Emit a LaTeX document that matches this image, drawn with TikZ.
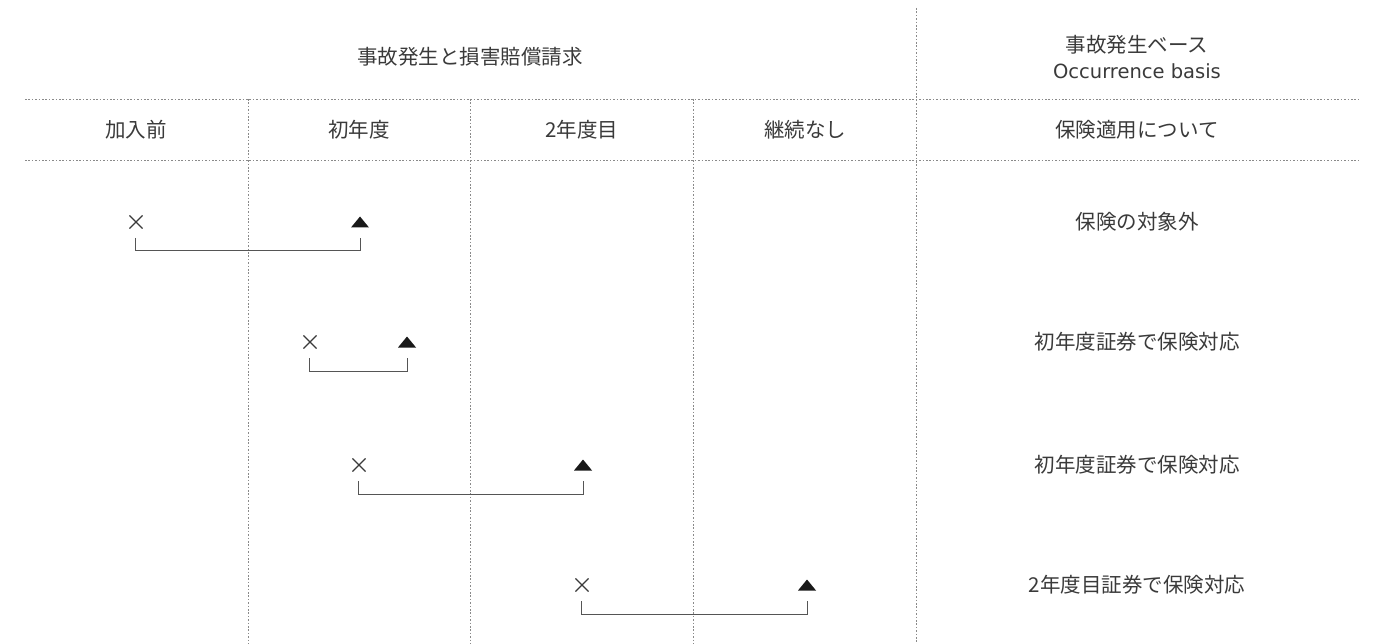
\documentclass[tikz,border=0pt]{standalone}
\usepackage{fontspec}
\setmainfont{Noto Sans CJK JP}
\newfontfamily\latinwide{DejaVu Sans}
\usetikzlibrary{calc,shapes.misc}
\definecolor{txt}{HTML}{3A3A3A}
\definecolor{grid}{HTML}{8A8A8A}
\definecolor{brk}{HTML}{555555}
\tikzset{
  gridline/.style={draw=grid, line width=0.9pt, dash pattern=on 1.6pt off 1.8pt},
  lbl/.style={text=txt, font=\fontsize{20.5}{26}\selectfont, inner sep=0pt, align=center},
  occ/.style={draw=txt, cross out, line width=1.1pt, minimum size=12pt, inner sep=0pt},
  clm/.style={fill=black!90},
  bracket/.style={draw=brk, line width=1pt},
}
\begin{document}
\begin{tikzpicture}[x=1pt,y=-1pt]
\useasboundingbox (0,0) rectangle (1376,644);
% grid
\coordinate (h1l) at (25,99);  \coordinate (h1r) at (1360,99);
\coordinate (h2l) at (25,160); \coordinate (h2r) at (1360,160);
\draw[gridline] (h1l) -- (h1r);
\draw[gridline] (h2l) -- (h2r);
\coordinate (v1t) at (248,99);  \coordinate (v1b) at (248,644);
\coordinate (v2t) at (470,99);  \coordinate (v2b) at (470,644);
\coordinate (v3t) at (693,99);  \coordinate (v3b) at (693,644);
\coordinate (v4t) at (916,8);   \coordinate (v4b) at (916,644);
\draw[gridline] (v1t) -- (v1b);
\draw[gridline] (v2t) -- (v2b);
\draw[gridline] (v3t) -- (v3b);
\draw[gridline] (v4t) -- (v4b);
% headers
\node[lbl] (title) at (470,57) {事故発生と損害賠償請求};
\node[lbl] (basis) at (1137,57) {事故発生ベース\\{\latinwide\fontsize{19.5}{26}\selectfont Occurrence basis}};
\node[lbl] (c0) at (136,130) {加入前};
\node[lbl] (c1) at (359,130) {初年度};
\node[lbl] (c2) at (582,130) {2年度目};
\node[lbl] (c3) at (805,130) {継続なし};
\node[lbl] (c4) at (1137,130) {保険適用について};
% result labels
\node[lbl] (r1) at (1137,222) {保険の対象外};
\node[lbl] (r2) at (1137,342) {初年度証券で保険対応};
\node[lbl] (r3) at (1137,465) {初年度証券で保険対応};
\node[lbl] (r4) at (1137,585) {2年度目証券で保険対応};
% markers
\node[occ] (o1) at (136,222) {};
\node[occ] (o2) at (310,342) {};
\node[occ] (o3) at (359,465) {};
\node[occ] (o4) at (582,585) {};
\coordinate (t1) at (360,222);
\coordinate (t2) at (407,342);
\coordinate (t3) at (583,465);
\coordinate (t4) at (807,585);
\foreach \t in {t1,t2,t3,t4}{
  \fill[clm] (\t) ++(-9,5.5) -- ++(18,0) -- ++(-9,-11) -- cycle;
}
% brackets
\foreach \a/\b in {o1/t1,o2/t2,o3/t3,o4/t4}{
  \draw[bracket] ($(\a.center)+(-1,16)$) -- ($(\a.center)+(-1,29)$) -- ($(\b)+(0,29)$) -- ($(\b)+(0,16)$);
}
\end{tikzpicture}
\end{document}
